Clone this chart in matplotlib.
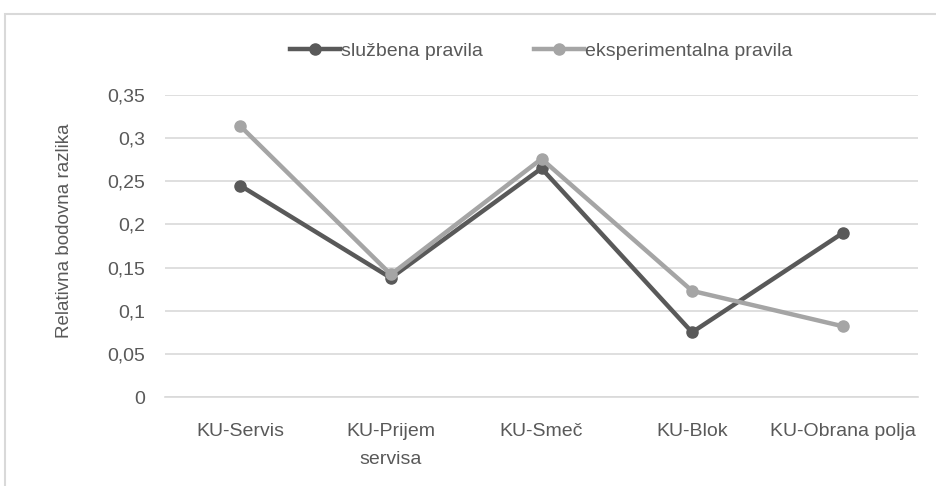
import matplotlib
matplotlib.use("Agg")
import matplotlib.pyplot as plt
from matplotlib.patches import Rectangle

plt.rcParams['font.family'] = ['Liberation Sans', 'DejaVu Sans']

categories = ["KU-Servis", "KU-Prijem\nservisa", "KU-Smeč", "KU-Blok", "KU-Obrana polja"]
sluzbena = [0.245, 0.138, 0.265, 0.075, 0.19]
eksperimentalna = [0.314, 0.142, 0.276, 0.123, 0.082]
yticks = [0, 0.05, 0.1, 0.15, 0.2, 0.25, 0.3, 0.35]
ytick_labels = ["0", "0,05", "0,1", "0,15", "0,2", "0,25", "0,3", "0,35"]

fig = plt.figure(figsize=(9.36, 4.86), dpi=100)
fig.patches.append(Rectangle((5/936, -0.1), 1.0, (486-14)/486 + 0.1, transform=fig.transFigure,
                             fill=False, edgecolor="#D9D9D9", linewidth=1.5))
ax = fig.add_axes([165/936, (486-397)/486, (918-165)/936, (397-95)/486])

x = range(len(categories))
ax.plot(x, sluzbena, color="#595959", lw=3.2, marker="o", ms=8, label="službena pravila", zorder=3)
ax.plot(x, eksperimentalna, color="#A5A5A5", lw=3.2, marker="o", ms=8, label="eksperimentalna pravila", zorder=3)

ax.set_xlim(-0.5, len(categories) - 0.5)
ax.set_ylim(0, 0.35)
ax.set_yticks(yticks)
ax.set_yticklabels(ytick_labels)
ax.set_xticks(list(x))
ax.set_xticklabels(categories, linespacing=1.8)
ax.grid(axis="y", color="#D9D9D9", lw=1.2)
ax.set_axisbelow(True)
for s in ["top", "right", "left"]:
    ax.spines[s].set_visible(False)
ax.spines["bottom"].set_color("#D9D9D9")
ax.spines["bottom"].set_linewidth(1.2)
ax.tick_params(axis="both", length=0, labelsize=14, colors="#595959")
ax.tick_params(axis="y", pad=14)
ax.tick_params(axis="x", pad=19)
ax.set_ylabel("Relativna bodovna razlika", fontsize=13.5, color="#595959")
ax.yaxis.set_label_coords((73 - 165) / 753, (397 - 231) / 302)

leg = fig.legend(loc="center", bbox_to_anchor=(541/936, (486-51)/486), ncol=2, frameon=False,
                 fontsize=14, handlelength=2.6, handletextpad=0.05, columnspacing=2.6)
for t in leg.get_texts():
    t.set_color("#595959")

fig.savefig("out.png", dpi=100)
